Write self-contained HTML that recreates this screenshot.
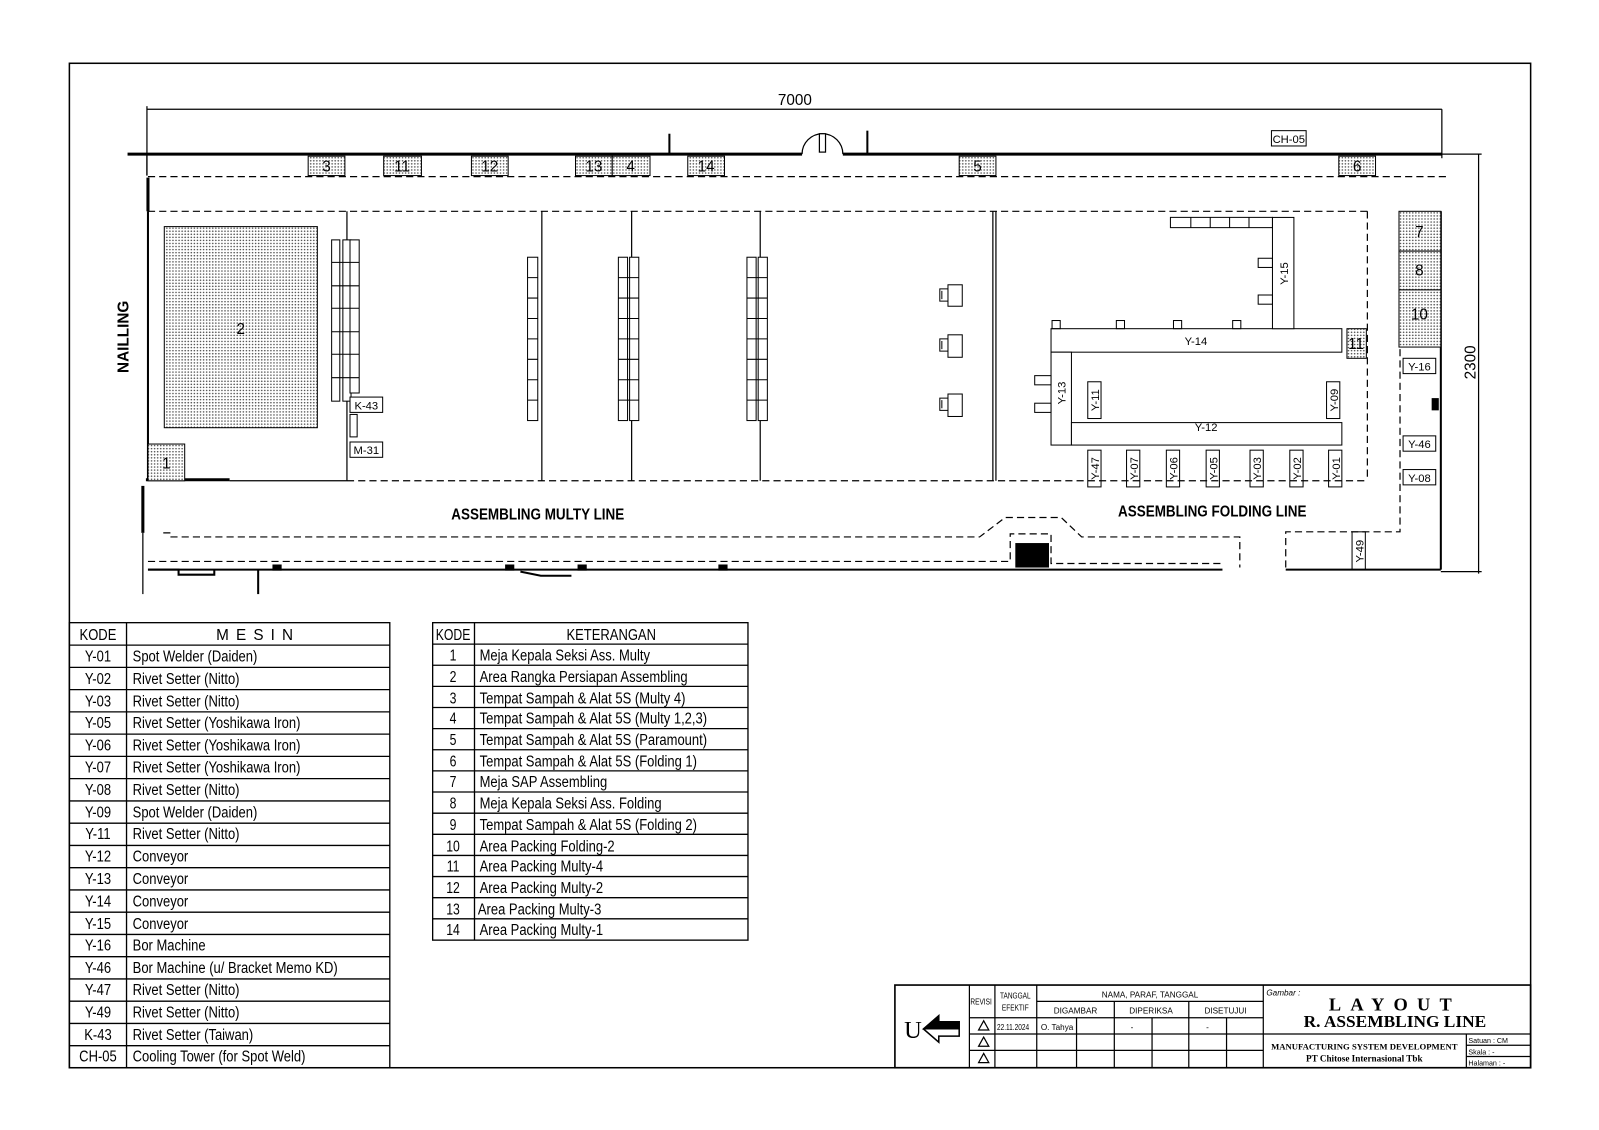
<!DOCTYPE html>
<html><head><meta charset="utf-8"><style>
html,body{margin:0;padding:0;background:#fff;overflow:hidden}
svg{display:block}
text{font-family:"Liberation Sans Narrow","Liberation Sans",sans-serif;fill:#000}
.t{font-size:15px}
.s{font-size:11px}
.b{font-family:"Liberation Sans Narrow","Liberation Sans",sans-serif;font-weight:bold;font-size:15px}
.serif{font-family:"Liberation Serif",serif;font-weight:bold}
</style></head><body>
<svg width="1599" height="1130" viewBox="0 0 1567 1107" preserveAspectRatio="none" xmlns="http://www.w3.org/2000/svg">
<defs>
<pattern id="dots" width="3" height="3" patternUnits="userSpaceOnUse"><rect width="3" height="3" fill="#fff"/><circle cx="1.5" cy="1.5" r="0.8" fill="#555"/></pattern>
</defs>
<g fill="none" stroke="#000" stroke-width="1.2">
<rect x="68" y="62" width="1432" height="984" stroke-width="1.5"/>
<line x1="144" y1="107" x2="1413" y2="107"/>
<line x1="144" y1="104" x2="144" y2="172"/>
<line x1="1413" y1="107" x2="1413" y2="155"/>
<line x1="125" y1="151" x2="786" y2="151" stroke-width="3"/>
<line x1="826" y1="151" x2="1413" y2="151" stroke-width="3"/>
<line x1="1413" y1="151" x2="1452" y2="151"/>
<path d="M786 151 A20 20 0 0 1 826 151"/>
<rect x="803" y="131" width="6" height="18" fill="#fff"/>
<line x1="656" y1="131" x2="656" y2="151" stroke-width="2"/>
<line x1="850" y1="128" x2="850" y2="151" stroke-width="2"/>
<line x1="144" y1="151" x2="144" y2="172"/>
<line x1="145" y1="174" x2="145" y2="207" stroke-width="3"/>
<line x1="145" y1="207" x2="145" y2="470" stroke-width="2"/>
<g stroke-dasharray="7 4">
<line x1="145" y1="173" x2="1420" y2="173"/>
<line x1="145" y1="207" x2="1340" y2="207"/>
<line x1="340" y1="471" x2="1340" y2="471"/>
<line x1="1340" y1="207" x2="1340" y2="471"/>
<path d="M160 522 L167 522 L167 526 L960 526 L985 507 L1040 507 L1060 526 L1215 526 L1215 556"/>
<path d="M145 550 L990 550 L990 523 L1030 523 L1030 552 L1198 552"/>
<path d="M1260 556 L1260 521 L1372 521 L1372 340"/>
</g>
<line x1="140" y1="476" x2="140" y2="522" stroke-width="3"/>
<line x1="143" y1="470" x2="225" y2="470" stroke-width="3"/>
<line x1="225" y1="471" x2="340" y2="471"/>
<line x1="145" y1="558" x2="1198" y2="558" stroke-width="2"/>
<line x1="140" y1="522" x2="140" y2="582"/>
<line x1="253" y1="558" x2="253" y2="582" stroke-width="2"/>
<path d="M145 558 L175 558 L175 563 L210 563 L210 558" stroke-width="2"/>
<path d="M510 560 L530 564 L560 564" stroke-width="2"/>
<line x1="1260" y1="558" x2="1412" y2="558" stroke-width="2"/>
<line x1="340" y1="207" x2="340" y2="471"/>
<line x1="531" y1="207" x2="531" y2="471"/>
<line x1="619" y1="207" x2="619" y2="471"/>
<line x1="745" y1="207" x2="745" y2="471"/>
<line x1="973" y1="207" x2="973" y2="471"/>
<line x1="976" y1="207" x2="976" y2="471"/>
<line x1="1412" y1="207" x2="1412" y2="558" stroke-width="2"/>
<line x1="1449" y1="151" x2="1449" y2="562"/>
<line x1="1412" y1="560" x2="1452" y2="560"/>
</g>
<g stroke="#000" stroke-width="1" fill="url(#dots)">
<rect x="302" y="153" width="36" height="19"/>
<rect x="376" y="153" width="37" height="19"/>
<rect x="462" y="153" width="36" height="19"/>
<rect x="564" y="153" width="36" height="19"/>
<rect x="600" y="153" width="37" height="19"/>
<rect x="674" y="153" width="36" height="19"/>
<rect x="940" y="153" width="36" height="19"/>
<rect x="1312" y="153" width="36" height="19"/>
<rect x="161" y="222" width="150" height="197"/>
<rect x="145" y="435" width="36" height="36"/>
<rect x="1320" y="322" width="19" height="29"/>
<rect x="1371" y="207" width="41" height="39"/>
<rect x="1371" y="246" width="41" height="38"/>
<rect x="1371" y="284" width="41" height="56"/>
</g>
<g class="t" text-anchor="middle">
<text x="320" y="168">3</text><text x="394" y="168">11</text><text x="480" y="168">12</text>
<text x="582" y="168">13</text><text x="618" y="168">4</text><text x="692" y="168">14</text>
<text x="958" y="168">5</text><text x="1330" y="168">6</text>
<text x="236" y="327">2</text><text x="163" y="459">1</text>
<text x="1329" y="342">11</text>
<text x="1391" y="232">7</text><text x="1391" y="270">8</text><text x="1391" y="313">10</text>
<text x="779" y="103">7000</text>
</g>
<g fill="#fff" stroke="#000" stroke-width="1">
<rect x="325" y="235" width="8" height="158"/><rect x="336" y="235" width="8" height="158"/><rect x="343" y="235" width="9" height="150"/>
</g>
<g stroke="#000" stroke-width="1" fill="none">
<path d="M325 257H352M325 280H352M325 302H352M325 325H352M325 347H352M325 370H352"/>
<rect x="517" y="252" width="10" height="160" fill="#fff"/>
<path d="M517 272H527M517 292H527M517 312H527M517 332H527M517 352H527M517 372H527M517 392H527"/>
<rect x="606" y="252" width="9" height="160" fill="#fff"/><rect x="617" y="252" width="9" height="160" fill="#fff"/>
<path d="M606 272H626M606 292H626M606 312H626M606 332H626M606 352H626M606 372H626M606 392H626"/>
<rect x="732" y="252" width="9" height="160" fill="#fff"/><rect x="743" y="252" width="9" height="160" fill="#fff"/>
<path d="M732 272H752M732 292H752M732 312H752M732 332H752M732 352H752M732 372H752M732 392H752"/>
<rect x="343" y="406" width="7" height="22" fill="#fff"/>
<rect x="343" y="389" width="32" height="15" fill="#fff"/>
<rect x="343" y="433" width="32" height="15" fill="#fff"/>
<rect x="929" y="279" width="14" height="21"/><path d="M929 283h-8v12h8M923 285v8"/>
<rect x="929" y="328" width="14" height="22"/><path d="M929 332h-8v12h8M923 334v8"/>
<rect x="929" y="386" width="14" height="22"/><path d="M929 390h-8v12h8M923 392v8"/>
<rect x="1030" y="322" width="285" height="23" fill="#fff"/>
<rect x="1247" y="213" width="21" height="109" fill="#fff"/>
<path d="M1147 213H1247V223H1147ZM1167 213v10M1186 213v10M1205 213v10M1224 213v10"/>
<rect x="1030" y="345" width="20" height="91" fill="#fff"/>
<rect x="1050" y="414" width="265" height="22" fill="#fff"/>
<rect x="1031" y="314" width="8" height="8"/><rect x="1094" y="314" width="8" height="8"/><rect x="1150" y="314" width="8" height="8"/><rect x="1208" y="314" width="8" height="8"/>
<rect x="1233" y="253" width="14" height="9"/><rect x="1233" y="289" width="14" height="9"/>
<rect x="1014" y="368" width="16" height="9"/><rect x="1014" y="395" width="16" height="9"/>
<rect x="1066" y="374" width="13" height="36"/><rect x="1300" y="374" width="13" height="36"/>
<rect x="1066" y="441" width="13" height="36"/><rect x="1104" y="441" width="13" height="36"/><rect x="1143" y="441" width="13" height="36"/><rect x="1182" y="441" width="13" height="36"/><rect x="1225" y="441" width="13" height="36"/><rect x="1264" y="441" width="13" height="36"/><rect x="1302" y="441" width="13" height="36"/>
<rect x="1375" y="351" width="32" height="15"/><rect x="1375" y="427" width="32" height="15"/><rect x="1375" y="460" width="32" height="15"/>
<rect x="1325" y="521" width="13" height="37"/>
<rect x="1246" y="128" width="34" height="15"/>
</g>
<g fill="#000">
<rect x="995" y="532" width="33" height="24"/>
<rect x="1403" y="390" width="7" height="12"/>
<rect x="267" y="553" width="9" height="6"/><rect x="495" y="553" width="9" height="6"/><rect x="566" y="553" width="9" height="6"/><rect x="704" y="553" width="9" height="6"/>
</g>
<g class="s" text-anchor="middle">
<text x="359" y="401">K-43</text><text x="359" y="445">M-31</text><text x="1263" y="140">CH-05</text>
<text x="1172" y="338">Y-14</text><text x="1182" y="422">Y-12</text>
<text x="1391" y="363">Y-16</text><text x="1391" y="439">Y-46</text><text x="1391" y="472">Y-08</text>
<text transform="translate(1262,268) rotate(-90)">Y-15</text>
<text transform="translate(1044,385) rotate(-90)">Y-13</text>
<text transform="translate(1077,392) rotate(-90)">Y-11</text>
<text transform="translate(1311,392) rotate(-90)">Y-09</text>
<text transform="translate(1077,459) rotate(-90)">Y-47</text>
<text transform="translate(1115,459) rotate(-90)">Y-07</text>
<text transform="translate(1154,459) rotate(-90)">Y-06</text>
<text transform="translate(1193,459) rotate(-90)">Y-05</text>
<text transform="translate(1236,459) rotate(-90)">Y-03</text>
<text transform="translate(1275,459) rotate(-90)">Y-02</text>
<text transform="translate(1313,459) rotate(-90)">Y-01</text>
<text transform="translate(1336,540) rotate(-90)">Y-49</text>
</g>
<text class="t" text-anchor="middle" transform="translate(1446,355) rotate(-90)">2300</text>
<text class="b" text-anchor="middle" transform="translate(126,330) rotate(-90)">NAILLING</text>
<text class="b" x="527" y="509" text-anchor="middle" transform="translate(527,0) scale(0.88,1) translate(-527,0)">ASSEMBLING MULTY LINE</text>
<text class="b" x="1188" y="506" text-anchor="middle" transform="translate(1188,0) scale(0.88,1) translate(-1188,0)">ASSEMBLING FOLDING LINE</text>

<g fill="none" stroke="#000" stroke-width="1.3">
<rect x="68" y="610" width="314" height="436"/>
<line x1="124" y1="610" x2="124" y2="1046"/>
<path d="M68 632H382M68 653.8H382M68 675.6H382M68 697.4H382M68 719.2H382M68 741H382M68 762.8H382M68 784.6H382M68 806.4H382M68 828.2H382M68 850H382M68 871.8H382M68 893.6H382M68 915.4H382M68 937.2H382M68 959H382M68 980.8H382M68 1002.6H382M68 1024.4H382"/>
<rect x="424" y="610" width="309" height="311"/>
<line x1="465" y1="610" x2="465" y2="921"/>
<path d="M424 631H733M424 651.7H733M424 672.4H733M424 693.1H733M424 713.8H733M424 734.5H733M424 755.2H733M424 775.9H733M424 796.6H733M424 817.3H733M424 838H733M424 858.7H733M424 879.4H733M424 900.1H733"/>
</g>
<g class="t">
<g text-anchor="middle" transform="translate(96,0) scale(0.85,1) translate(-96,0)">
<text x="96" y="627">KODE</text>
<text x="96" y="648">Y-01</text><text x="96" y="670">Y-02</text><text x="96" y="692">Y-03</text><text x="96" y="713">Y-05</text><text x="96" y="735">Y-06</text><text x="96" y="757">Y-07</text><text x="96" y="779">Y-08</text><text x="96" y="801">Y-09</text><text x="96" y="822">Y-11</text><text x="96" y="844">Y-12</text><text x="96" y="866">Y-13</text><text x="96" y="888">Y-14</text><text x="96" y="910">Y-15</text><text x="96" y="931">Y-16</text><text x="96" y="953">Y-46</text><text x="96" y="975">Y-47</text><text x="96" y="997">Y-49</text><text x="96" y="1019">K-43</text><text x="96" y="1040">CH-05</text>
</g>
<text x="253" y="627" text-anchor="middle" letter-spacing="7">MESIN</text>
<g transform="translate(130,0) scale(0.85,1) translate(-130,0)">
<text x="130" y="648">Spot  Welder  (Daiden)</text><text x="130" y="670">Rivet  Setter  (Nitto)</text><text x="130" y="692">Rivet  Setter  (Nitto)</text><text x="130" y="713">Rivet  Setter  (Yoshikawa  Iron)</text><text x="130" y="735">Rivet  Setter  (Yoshikawa  Iron)</text><text x="130" y="757">Rivet  Setter  (Yoshikawa  Iron)</text><text x="130" y="779">Rivet  Setter  (Nitto)</text><text x="130" y="801">Spot  Welder  (Daiden)</text><text x="130" y="822">Rivet  Setter  (Nitto)</text><text x="130" y="844">Conveyor</text><text x="130" y="866">Conveyor</text><text x="130" y="888">Conveyor</text><text x="130" y="910">Conveyor</text><text x="130" y="931">Bor  Machine</text><text x="130" y="953">Bor  Machine  (u/  Bracket  Memo  KD)</text><text x="130" y="975">Rivet  Setter  (Nitto)</text><text x="130" y="997">Rivet  Setter  (Nitto)</text><text x="130" y="1019">Rivet  Setter  (Taiwan)</text><text x="130" y="1040">Cooling  Tower  (for  Spot  Weld)</text>
</g>
<g text-anchor="middle" transform="translate(444,0) scale(0.8,1) translate(-444,0)">
<text x="444" y="627">KODE</text>
<text x="444" y="647">1</text><text x="444" y="668">2</text><text x="444" y="689">3</text><text x="444" y="709">4</text><text x="444" y="730">5</text><text x="444" y="751">6</text><text x="444" y="771">7</text><text x="444" y="792">8</text><text x="444" y="813">9</text><text x="444" y="834">10</text><text x="444" y="854">11</text><text x="444" y="875">12</text><text x="444" y="896">13</text><text x="444" y="916">14</text>
</g>
<text x="599" y="627" text-anchor="middle" transform="translate(599,0) scale(0.85,1) translate(-599,0)">KETERANGAN</text>
<g transform="translate(470,0) scale(0.85,1) translate(-470,0)">
<text x="470" y="647">Meja  Kepala  Seksi  Ass.  Multy</text><text x="470" y="668">Area  Rangka  Persiapan  Assembling</text><text x="470" y="689">Tempat  Sampah  &amp;  Alat  5S  (Multy  4)</text><text x="470" y="709">Tempat  Sampah  &amp;  Alat  5S  (Multy  1,2,3)</text><text x="470" y="730">Tempat  Sampah  &amp;  Alat  5S  (Paramount)</text><text x="470" y="751">Tempat  Sampah  &amp;  Alat  5S  (Folding  1)</text><text x="470" y="771">Meja  SAP  Assembling</text><text x="470" y="792">Meja  Kepala  Seksi  Ass.  Folding</text><text x="470" y="813">Tempat  Sampah  &amp;  Alat  5S  (Folding  2)</text><text x="470" y="834">Area  Packing  Folding-2</text><text x="470" y="854">Area  Packing  Multy-4</text><text x="470" y="875">Area  Packing  Multy-2</text><text x="468" y="896">Area  Packing  Multy-3</text><text x="470" y="916">Area  Packing  Multy-1</text>
</g>
</g>

<g fill="none" stroke="#000" stroke-width="1.2">
<rect x="877" y="965" width="623" height="81" stroke-width="1.6"/>
<line x1="950" y1="965" x2="950" y2="1046"/>
<line x1="975" y1="965" x2="975" y2="1046"/>
<line x1="1016" y1="965" x2="1016" y2="1046"/>
<line x1="1238" y1="965" x2="1238" y2="1046"/>
<line x1="1016" y1="981" x2="1238" y2="981"/>
<line x1="1016" y1="997" x2="1238" y2="997"/>
<line x1="950" y1="997" x2="1016" y2="997"/>
<line x1="950" y1="1013" x2="1238" y2="1013"/>
<line x1="950" y1="1029" x2="1238" y2="1029"/>
<line x1="1092" y1="981" x2="1092" y2="1046"/>
<line x1="1165" y1="981" x2="1165" y2="1046"/>
<path d="M1055 997V1046M1129 997V1046M1202 997V1046"/>
<line x1="1238" y1="1013" x2="1500" y2="1013"/>
<line x1="1437" y1="1013" x2="1437" y2="1046"/>
<path d="M1437 1024H1500M1437 1035H1500"/>
<path d="M905 1008 L920 995 L920 1001 L940 1001 L940 1015 L920 1015 L920 1021 Z" stroke-width="1.5"/>
<path d="M905 1008 L920 995 L920 1001 L940 1001 L940 1008 Z" fill="#000"/>
<path d="M964 1000l-5 9h10zM964 1016l-5 9h10zM964 1032l-5 9h10z"/>
</g>
<g style="font-size:8px">
<text x="951" y="984" transform="translate(951,0) scale(0.8,1) translate(-951,0)">REVISI</text>
<text x="995" y="978" text-anchor="middle" transform="translate(995,0) scale(0.8,1) translate(-995,0)">TANGGAL</text><text x="995" y="990" text-anchor="middle" transform="translate(995,0) scale(0.8,1) translate(-995,0)">EFEKTIF</text>
<text x="1127" y="977" text-anchor="middle">NAMA, PARAF, TANGGAL</text>
<text x="1054" y="993" text-anchor="middle">DIGAMBAR</text><text x="1128" y="993" text-anchor="middle">DIPERIKSA</text><text x="1201" y="993" text-anchor="middle">DISETUJUI</text>
<text x="977" y="1009" transform="translate(977,0) scale(0.8,1) translate(-977,0)">22.11.2024</text><text x="1020" y="1009">O. Tahya</text>
<text x="1108" y="1009">-</text><text x="1182" y="1009">-</text>
<text x="1241" y="975" font-style="italic">Gambar :</text>
<text x="1439" y="1022" style="font-size:7px">Satuan  : CM</text><text x="1439" y="1033" style="font-size:7px">Skala    : -</text><text x="1439" y="1044" style="font-size:7px">Halaman : -</text>
</g>
<text class="serif" x="886" y="1017" style="font-size:24px;font-weight:normal">U</text>
<text class="serif" x="1367" y="990" text-anchor="middle" style="font-size:18px" letter-spacing="9">LAYOUT</text>
<text class="serif" x="1367" y="1006" text-anchor="middle" style="font-size:17px">R. ASSEMBLING LINE</text>
<text class="serif" x="1337" y="1028" text-anchor="middle" style="font-size:8.5px">MANUFACTURING SYSTEM DEVELOPMENT</text>
<text class="serif" x="1337" y="1040" text-anchor="middle" style="font-size:9px">PT Chitose Internasional Tbk</text>
</svg>
</body></html>
